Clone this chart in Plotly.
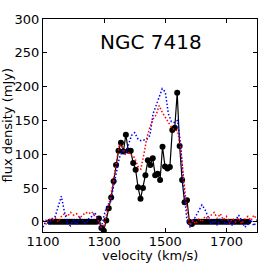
import plotly.graph_objects as go

# Black series (channels, ~8 km/s)
black_v = [1123 + 8 * i for i in range(82)]
black_f = [0] * 20 + [
    5, -9, -13, 2, 20, 36, 60, 84, 105, 117,
    104, 129, 105, 105, 87, 77, 51, 34, 50, 69,
    91, 84, 94, 69, 71, 62, 111, 82, 79, 81,
    136, 139, 191, 112, 62, 29, 32, 0, -3,
] + [0] * 23

# Dotted comparison profiles (10 km/s grid)
model_v = list(range(1100, 1801, 10))
blue_f = [
    -8, 2, -3, 5, 8, 25, 38, 15, -2, -6,
    3, -4, 6, 2, -3, 5, 8, 14, 2, -10,
    10, 25, 28, 50, 75, 95, 105, 100, 115, 128,
    132, 123, 120, 121, 122, 128, 160, 172, 185, 197,
    192, 160, 148, 147, 150, 115, 55, 5, -8, 0,
    8, 18, 25, 18, 8, -3, 2, -5, 5, 0,
    -4, 3, -6, 2, 10, 2, -8, -4, 3, -6, 2,
]
red_f = [
    2, -3, 4, 2, 6, 0, 8, 12, 8, 14,
    10, 12, 6, 10, 14, 12, 15, 8, 4, -8,
    -5, 15, 35, 60, 90, 115, 110, 100, 102, 98,
    95, 82, 78, 100, 125, 140, 152, 158, 172, 162,
    155, 148, 140, 136, 135, 110, 60, 20, -5, 2,
    -3, 5, 0, 8, 4, 10, 14, 5, 12, 3,
    8, -2, 5, 0, 6, -3, 4, 8, 2, 10, 3,
]

x_ticks = [1100, 1300, 1500, 1700]
y_ticks = [0, 50, 100, 150, 200, 250, 300]

fig = go.Figure()
fig.add_trace(go.Scatter(
    x=black_v, y=black_f, mode="lines+markers",
    line=dict(color="black", width=1.2),
    marker=dict(color="black", size=6),
))
fig.add_trace(go.Scatter(
    x=model_v, y=blue_f, mode="lines",
    line=dict(color="#0000ff", width=1.5, dash="1.5px,2px"),
))
fig.add_trace(go.Scatter(
    x=model_v, y=red_f, mode="lines",
    line=dict(color="#ff0000", width=1.5, dash="1.5px,2px"),
))

font = dict(family="DejaVu Sans", color="black")
axis_common = dict(
    showline=True, linecolor="black", linewidth=1, mirror="ticks",
    ticks="inside", ticklen=4, tickcolor="black", showgrid=False,
    zeroline=False, tickfont=dict(size=13, **font),
)

fig.update_layout(
    width=273, height=273,
    margin=dict(l=43, r=16, t=16, b=41),
    paper_bgcolor="white", plot_bgcolor="white",
    showlegend=False, hovermode=False,
    xaxis=dict(range=[1100, 1800], tickvals=x_ticks, ticklabelstandoff=-3,
               **axis_common),
    yaxis=dict(range=[-15, 300], tickvals=y_ticks, **axis_common),
    annotations=[
        dict(text="NGC 7418", x=0.505, y=0.893, xref="paper", yref="paper",
             showarrow=False, font=dict(size=20, **font),
             xanchor="center", yanchor="middle"),
        dict(text="velocity (km/s)", x=0.5, y=-0.11, xref="paper", yref="paper",
             showarrow=False, font=dict(size=13, **font),
             xanchor="center", yanchor="middle"),
        dict(text="flux density (mJy)", x=-0.164, y=0.5, xref="paper", yref="paper",
             showarrow=False, font=dict(size=13, **font), textangle=-90,
             xanchor="center", yanchor="middle"),
    ],
)

fig.write_html("out.html", config={"displayModeBar": False, "staticPlot": True},
               post_script="document.body.style.margin='0';")
